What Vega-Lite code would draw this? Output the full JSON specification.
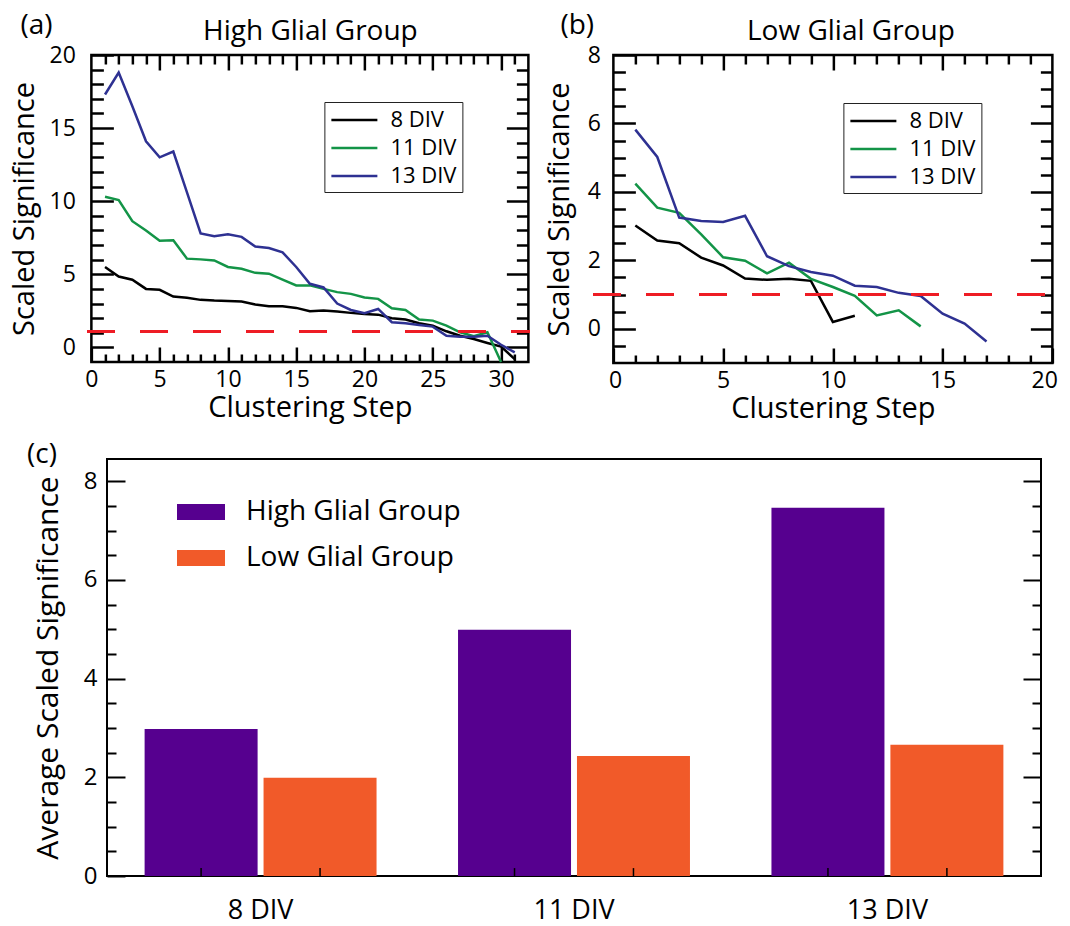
{
  "$schema": "https://vega.github.io/schema/vega-lite/v6.json",
  "background": "white",
  "padding": {"left": 8, "top": 10, "right": 4, "bottom": 4},
  "config": {
    "font": "Open Sans",
    "view": {"stroke": "black", "strokeWidth": 2.5},
    "axis": {
      "domain": false, "grid": false, "ticks": true,
      "tickColor": "black", "tickWidth": 2.5,
      "labelColor": "black", "labelFontSize": 23, "labelFlush": false, "labelOverlap": false,
      "titleColor": "black", "titleFontSize": 29, "titleFontWeight": "normal"
    },
    "title": {"fontSize": 28, "fontWeight": "normal", "color": "black"},
    "legend": {"labelColor": "black", "labelLimit": 0}
  },
  "datasets": {
    "high": [
      {"step": 1, "sig": 5.5, "div": "8 DIV"}, {"step": 2, "sig": 4.85, "div": "8 DIV"}, {"step": 3, "sig": 4.63, "div": "8 DIV"},
      {"step": 4, "sig": 4.0, "div": "8 DIV"}, {"step": 5, "sig": 3.94, "div": "8 DIV"}, {"step": 6, "sig": 3.48, "div": "8 DIV"},
      {"step": 7, "sig": 3.39, "div": "8 DIV"}, {"step": 8, "sig": 3.25, "div": "8 DIV"}, {"step": 9, "sig": 3.2, "div": "8 DIV"},
      {"step": 10, "sig": 3.18, "div": "8 DIV"}, {"step": 11, "sig": 3.14, "div": "8 DIV"}, {"step": 12, "sig": 2.93, "div": "8 DIV"},
      {"step": 13, "sig": 2.82, "div": "8 DIV"}, {"step": 14, "sig": 2.82, "div": "8 DIV"}, {"step": 15, "sig": 2.7, "div": "8 DIV"},
      {"step": 16, "sig": 2.47, "div": "8 DIV"}, {"step": 17, "sig": 2.52, "div": "8 DIV"}, {"step": 18, "sig": 2.45, "div": "8 DIV"},
      {"step": 19, "sig": 2.36, "div": "8 DIV"}, {"step": 20, "sig": 2.29, "div": "8 DIV"}, {"step": 21, "sig": 2.24, "div": "8 DIV"},
      {"step": 22, "sig": 1.99, "div": "8 DIV"}, {"step": 23, "sig": 1.9, "div": "8 DIV"}, {"step": 24, "sig": 1.65, "div": "8 DIV"},
      {"step": 25, "sig": 1.49, "div": "8 DIV"}, {"step": 26, "sig": 1.1, "div": "8 DIV"}, {"step": 27, "sig": 0.8, "div": "8 DIV"},
      {"step": 28, "sig": 0.57, "div": "8 DIV"}, {"step": 29, "sig": 0.3, "div": "8 DIV"}, {"step": 30, "sig": 0.05, "div": "8 DIV"},
      {"step": 31, "sig": -0.8, "div": "8 DIV"},
      {"step": 1, "sig": 10.3, "div": "11 DIV"}, {"step": 2, "sig": 10.08, "div": "11 DIV"}, {"step": 3, "sig": 8.63, "div": "11 DIV"},
      {"step": 4, "sig": 8.0, "div": "11 DIV"}, {"step": 5, "sig": 7.3, "div": "11 DIV"}, {"step": 6, "sig": 7.33, "div": "11 DIV"},
      {"step": 7, "sig": 6.07, "div": "11 DIV"}, {"step": 8, "sig": 6.02, "div": "11 DIV"}, {"step": 9, "sig": 5.95, "div": "11 DIV"},
      {"step": 10, "sig": 5.5, "div": "11 DIV"}, {"step": 11, "sig": 5.38, "div": "11 DIV"}, {"step": 12, "sig": 5.1, "div": "11 DIV"},
      {"step": 13, "sig": 5.04, "div": "11 DIV"}, {"step": 14, "sig": 4.63, "div": "11 DIV"}, {"step": 15, "sig": 4.24, "div": "11 DIV"},
      {"step": 16, "sig": 4.24, "div": "11 DIV"}, {"step": 17, "sig": 4.0, "div": "11 DIV"}, {"step": 18, "sig": 3.78, "div": "11 DIV"},
      {"step": 19, "sig": 3.66, "div": "11 DIV"}, {"step": 20, "sig": 3.41, "div": "11 DIV"}, {"step": 21, "sig": 3.32, "div": "11 DIV"},
      {"step": 22, "sig": 2.68, "div": "11 DIV"}, {"step": 23, "sig": 2.56, "div": "11 DIV"}, {"step": 24, "sig": 1.9, "div": "11 DIV"},
      {"step": 25, "sig": 1.83, "div": "11 DIV"}, {"step": 26, "sig": 1.49, "div": "11 DIV"}, {"step": 27, "sig": 1.03, "div": "11 DIV"},
      {"step": 28, "sig": 0.76, "div": "11 DIV"}, {"step": 29, "sig": 1.03, "div": "11 DIV"}, {"step": 30, "sig": -1.0, "div": "11 DIV"},
      {"step": 1, "sig": 17.3, "div": "13 DIV"}, {"step": 2, "sig": 18.8, "div": "13 DIV"}, {"step": 3, "sig": 16.5, "div": "13 DIV"},
      {"step": 4, "sig": 14.1, "div": "13 DIV"}, {"step": 5, "sig": 13.0, "div": "13 DIV"}, {"step": 6, "sig": 13.4, "div": "13 DIV"},
      {"step": 7, "sig": 10.6, "div": "13 DIV"}, {"step": 8, "sig": 7.8, "div": "13 DIV"}, {"step": 9, "sig": 7.6, "div": "13 DIV"},
      {"step": 10, "sig": 7.74, "div": "13 DIV"}, {"step": 11, "sig": 7.56, "div": "13 DIV"}, {"step": 12, "sig": 6.9, "div": "13 DIV"},
      {"step": 13, "sig": 6.8, "div": "13 DIV"}, {"step": 14, "sig": 6.5, "div": "13 DIV"}, {"step": 15, "sig": 5.5, "div": "13 DIV"},
      {"step": 16, "sig": 4.35, "div": "13 DIV"}, {"step": 17, "sig": 4.1, "div": "13 DIV"}, {"step": 18, "sig": 3.0, "div": "13 DIV"},
      {"step": 19, "sig": 2.56, "div": "13 DIV"}, {"step": 20, "sig": 2.34, "div": "13 DIV"}, {"step": 21, "sig": 2.63, "div": "13 DIV"},
      {"step": 22, "sig": 1.72, "div": "13 DIV"}, {"step": 23, "sig": 1.65, "div": "13 DIV"}, {"step": 24, "sig": 1.53, "div": "13 DIV"},
      {"step": 25, "sig": 1.42, "div": "13 DIV"}, {"step": 26, "sig": 0.8, "div": "13 DIV"}, {"step": 27, "sig": 0.73, "div": "13 DIV"},
      {"step": 28, "sig": 0.73, "div": "13 DIV"}, {"step": 29, "sig": 0.8, "div": "13 DIV"}, {"step": 30, "sig": 0.18, "div": "13 DIV"},
      {"step": 31, "sig": -0.34, "div": "13 DIV"}
    ],
    "low": [
      {"step": 1, "sig": 3.02, "div": "8 DIV"}, {"step": 2, "sig": 2.58, "div": "8 DIV"}, {"step": 3, "sig": 2.5, "div": "8 DIV"},
      {"step": 4, "sig": 2.08, "div": "8 DIV"}, {"step": 5, "sig": 1.85, "div": "8 DIV"}, {"step": 6, "sig": 1.47, "div": "8 DIV"},
      {"step": 7, "sig": 1.43, "div": "8 DIV"}, {"step": 8, "sig": 1.46, "div": "8 DIV"}, {"step": 9, "sig": 1.4, "div": "8 DIV"},
      {"step": 10, "sig": 0.2, "div": "8 DIV"}, {"step": 11, "sig": 0.38, "div": "8 DIV"},
      {"step": 1, "sig": 4.24, "div": "11 DIV"}, {"step": 2, "sig": 3.54, "div": "11 DIV"}, {"step": 3, "sig": 3.39, "div": "11 DIV"},
      {"step": 4, "sig": 2.76, "div": "11 DIV"}, {"step": 5, "sig": 2.09, "div": "11 DIV"}, {"step": 6, "sig": 1.99, "div": "11 DIV"},
      {"step": 7, "sig": 1.62, "div": "11 DIV"}, {"step": 8, "sig": 1.93, "div": "11 DIV"}, {"step": 9, "sig": 1.46, "div": "11 DIV"},
      {"step": 10, "sig": 1.22, "div": "11 DIV"}, {"step": 11, "sig": 0.96, "div": "11 DIV"}, {"step": 12, "sig": 0.39, "div": "11 DIV"},
      {"step": 13, "sig": 0.54, "div": "11 DIV"}, {"step": 14, "sig": 0.07, "div": "11 DIV"},
      {"step": 1, "sig": 5.82, "div": "13 DIV"}, {"step": 2, "sig": 5.02, "div": "13 DIV"}, {"step": 3, "sig": 3.25, "div": "13 DIV"},
      {"step": 4, "sig": 3.15, "div": "13 DIV"}, {"step": 5, "sig": 3.12, "div": "13 DIV"}, {"step": 6, "sig": 3.3, "div": "13 DIV"},
      {"step": 7, "sig": 2.12, "div": "13 DIV"}, {"step": 8, "sig": 1.83, "div": "13 DIV"}, {"step": 9, "sig": 1.66, "div": "13 DIV"},
      {"step": 10, "sig": 1.55, "div": "13 DIV"}, {"step": 11, "sig": 1.26, "div": "13 DIV"}, {"step": 12, "sig": 1.22, "div": "13 DIV"},
      {"step": 13, "sig": 1.05, "div": "13 DIV"}, {"step": 14, "sig": 0.96, "div": "13 DIV"}, {"step": 15, "sig": 0.44, "div": "13 DIV"},
      {"step": 16, "sig": 0.15, "div": "13 DIV"}, {"step": 17, "sig": -0.37, "div": "13 DIV"}
    ],
    "avg": [
      {"div": "8 DIV", "group": "High Glial Group", "avg": 2.98},
      {"div": "8 DIV", "group": "Low Glial Group", "avg": 1.99},
      {"div": "11 DIV", "group": "High Glial Group", "avg": 4.99},
      {"div": "11 DIV", "group": "Low Glial Group", "avg": 2.43},
      {"div": "13 DIV", "group": "High Glial Group", "avg": 7.46},
      {"div": "13 DIV", "group": "Low Glial Group", "avg": 2.66}
    ]
  },
  "vconcat": [
    {
      "hconcat": [
        {
          "width": 437, "height": 307,
          "title": {"text": "(a)", "anchor": "start", "frame": "group", "dx": -71, "dy": 26},
          "data": {"name": "high"},
          "view": {"stroke": "black", "strokeWidth": 2.5},
          "layer": [
            {
              "mark": {"type": "line", "strokeWidth": 2.5},
              "encoding": {
                "x": {"field": "step", "type": "quantitative",
                      "scale": {"domain": [0, 32], "nice": false, "zero": false},
                      "axis": {"orient": "bottom", "values": [0, 5, 10, 15, 20, 25, 30], "tickSize": -15, "labelPadding": 21, "title": "Clustering Step", "titlePadding": 2}},
                "y": {"field": "sig", "type": "quantitative",
                      "scale": {"domain": [-1, 20], "nice": false, "zero": false},
                      "axis": {"orient": "left", "values": [0, 5, 10, 15, 20], "tickSize": -22, "labelPadding": 38, "title": "Scaled Significance", "titlePadding": 10}},
                "color": {"field": "div", "type": "nominal",
                          "scale": {"domain": ["8 DIV", "11 DIV", "13 DIV"], "range": ["#000000", "#139447", "#2e3192"]},
                          "legend": {"orient": "none", "legendX": 233, "legendY": 47, "title": null,
                                     "symbolType": "M-2,0H2", "symbolSize": 529, "symbolStrokeWidth": 2.5, "symbolOffset": 12,
                                     "labelFontSize": 22, "labelOffset": 23, "rowPadding": 4, "padding": 5,
                                     "strokeColor": "#222222", "fillColor": "white"}}
              }
            },
            {
              "mark": {"type": "point", "opacity": 0},
              "encoding": {
                "x": {"field": "step", "type": "quantitative",
                      "axis": {"orient": "bottom", "values": [1, 2, 3, 4, 6, 7, 8, 9, 11, 12, 13, 14, 16, 17, 18, 19, 21, 22, 23, 24, 26, 27, 28, 29, 31], "tickSize": -8, "labels": false, "title": null}},
                "y": {"field": "sig", "type": "quantitative",
                      "axis": {"orient": "left", "values": [1, 2, 3, 4, 6, 7, 8, 9, 11, 12, 13, 14, 16, 17, 18, 19], "tickSize": -12, "labels": false, "title": null}}
              }
            },
            {
              "mark": {"type": "point", "opacity": 0},
              "encoding": {
                "x": {"field": "step", "type": "quantitative",
                      "axis": {"orient": "top", "values": [5, 10, 15, 20, 25, 30], "tickSize": -15, "labels": false, "title": "High Glial Group", "titleFontSize": 28, "titlePadding": 8}},
                "y": {"field": "sig", "type": "quantitative",
                      "axis": {"orient": "right", "values": [0, 5, 10, 15], "tickSize": -22, "labels": false, "title": null}}
              }
            },
            {
              "mark": {"type": "point", "opacity": 0},
              "encoding": {
                "x": {"field": "step", "type": "quantitative",
                      "axis": {"orient": "top", "values": [1, 2, 3, 4, 6, 7, 8, 9, 11, 12, 13, 14, 16, 17, 18, 19, 21, 22, 23, 24, 26, 27, 28, 29, 31], "tickSize": -9, "labels": false, "title": null}},
                "y": {"field": "sig", "type": "quantitative",
                      "axis": {"orient": "right", "values": [1, 2, 3, 4, 6, 7, 8, 9, 11, 12, 13, 14, 16, 17, 18, 19], "tickSize": -12, "labels": false, "title": null}}
              }
            },
            {
              "mark": {"type": "rule", "stroke": "#ee1c25", "strokeWidth": 2.5, "strokeDash": [27, 26]},
              "encoding": {
                "x": {"datum": -0.3, "axis": null},
                "x2": {"datum": 32.1},
                "y": {"datum": 1.1, "axis": null}
              }
            }
          ],
          "resolve": {"axis": {"x": "independent", "y": "independent"}}
        },
        {
          "width": 439, "height": 308,
          "title": {"text": "(b)", "anchor": "start", "frame": "group", "dx": -53, "dy": 26},
          "data": {"name": "low"},
          "view": {"stroke": "black", "strokeWidth": 2.5},
          "layer": [
            {
              "mark": {"type": "line", "strokeWidth": 2.5},
              "encoding": {
                "x": {"field": "step", "type": "quantitative",
                      "scale": {"domain": [0, 20], "nice": false, "zero": false},
                      "axis": {"orient": "bottom", "values": [0, 5, 10, 15, 20], "tickSize": -15, "labelPadding": 21, "labelFlush": true, "labelFlushOffset": 5, "title": "Clustering Step", "titlePadding": 2}},
                "y": {"field": "sig", "type": "quantitative",
                      "scale": {"domain": [-1, 8], "nice": false, "zero": false},
                      "axis": {"orient": "left", "values": [0, 2, 4, 6, 8], "tickSize": -22, "labelPadding": 35, "title": "Scaled Significance", "titlePadding": 13}},
                "color": {"field": "div", "type": "nominal",
                          "scale": {"domain": ["8 DIV", "11 DIV", "13 DIV"], "range": ["#000000", "#139447", "#2e3192"]},
                          "legend": {"orient": "none", "legendX": 230, "legendY": 48, "title": null,
                                     "symbolType": "M-2,0H2", "symbolSize": 529, "symbolStrokeWidth": 2.5, "symbolOffset": 12,
                                     "labelFontSize": 22, "labelOffset": 23, "rowPadding": 4, "padding": 5,
                                     "strokeColor": "#222222", "fillColor": "white"}}
              }
            },
            {
              "mark": {"type": "point", "opacity": 0},
              "encoding": {
                "x": {"field": "step", "type": "quantitative",
                      "axis": {"orient": "bottom", "values": [1, 2, 3, 4, 6, 7, 8, 9, 11, 12, 13, 14, 16, 17, 18, 19], "tickSize": -8, "labels": false, "title": null}},
                "y": {"field": "sig", "type": "quantitative",
                      "axis": {"orient": "left", "values": [-0.5, 0.5, 1, 1.5, 2.5, 3, 3.5, 4.5, 5, 5.5, 6.5, 7, 7.5], "tickSize": -12, "labels": false, "title": null}}
              }
            },
            {
              "mark": {"type": "point", "opacity": 0},
              "encoding": {
                "x": {"field": "step", "type": "quantitative",
                      "axis": {"orient": "top", "values": [5, 10, 15], "tickSize": -15, "labels": false, "title": "Low Glial Group", "titleFontSize": 28, "titlePadding": 8, "titleX": 237}},
                "y": {"field": "sig", "type": "quantitative",
                      "axis": {"orient": "right", "values": [0, 2, 4, 6], "tickSize": -22, "labels": false, "title": null}}
              }
            },
            {
              "mark": {"type": "point", "opacity": 0},
              "encoding": {
                "x": {"field": "step", "type": "quantitative",
                      "axis": {"orient": "top", "values": [1, 2, 3, 4, 6, 7, 8, 9, 11, 12, 13, 14, 16, 17, 18, 19], "tickSize": -9, "labels": false, "title": null}},
                "y": {"field": "sig", "type": "quantitative",
                      "axis": {"orient": "right", "values": [-0.5, 0.5, 1, 1.5, 2.5, 3, 3.5, 4.5, 5, 5.5, 6.5, 7, 7.5], "tickSize": -12, "labels": false, "title": null}}
              }
            },
            {
              "mark": {"type": "rule", "stroke": "#ee1c25", "strokeWidth": 2.5, "strokeDash": [27, 26]},
              "encoding": {
                "x": {"datum": -0.9, "axis": null},
                "x2": {"datum": 20},
                "y": {"datum": 1.0, "axis": null}
              }
            }
          ],
          "resolve": {"axis": {"x": "independent", "y": "independent"}}
        }
      ],
      "spacing": 11,
      "resolve": {"scale": {"color": "independent"}}
    },
    {
      "width": 934, "height": 417,
      "title": {"text": "(c)", "anchor": "start", "frame": "group", "dx": -80, "dy": 14},
      "data": {"name": "avg"},
      "view": {"stroke": "black", "strokeWidth": 2},
      "layer": [
        {
          "mark": {"type": "bar"},
          "encoding": {
            "x": {"field": "div", "type": "nominal", "sort": ["8 DIV", "11 DIV", "13 DIV"],
                  "scale": {"paddingInner": 0.26, "paddingOuter": 0.12},
                  "axis": {"orient": "bottom", "ticks": false, "tickSize": 0, "labelAngle": 0, "labelFontSize": 27, "labelPadding": 21, "title": null}},
            "xOffset": {"field": "group", "type": "nominal", "sort": ["High Glial Group", "Low Glial Group"],
                        "scale": {"paddingInner": 0.05, "paddingOuter": 0}},
            "y": {"field": "avg", "type": "quantitative",
                  "scale": {"domain": [0, 8.45], "nice": false},
                  "axis": {"orient": "left", "values": [0, 2, 4, 6, 8], "tickSize": -18, "tickWidth": 2, "labelFontSize": 24, "labelPadding": 28, "title": "Average Scaled Significance", "titleFontSize": 30, "titlePadding": 20}},
            "color": {"field": "group", "type": "nominal",
                      "scale": {"domain": ["High Glial Group", "Low Glial Group"], "range": ["#56008f", "#f15a29"]},
                      "legend": {"orient": "none", "legendX": 59, "legendY": 39, "title": null,
                                 "symbolType": "M-2,-0.667H2V0.667H-2Z", "symbolSize": 576, "symbolStrokeWidth": 0, "symbolOffset": 21,
                                 "labelFontSize": 28, "labelOffset": 31, "rowPadding": 18, "padding": 0}}
          }
        },
        {
          "mark": {"type": "point", "opacity": 0},
          "encoding": {
            "x": {"field": "div", "type": "nominal", "sort": ["8 DIV", "11 DIV", "13 DIV"], "axis": null},
            "y": {"field": "avg", "type": "quantitative",
                  "axis": {"orient": "left", "values": [0.5, 1, 1.5, 2.5, 3, 3.5, 4.5, 5, 5.5, 6.5, 7, 7.5], "tickSize": -9, "tickWidth": 2, "labels": false, "title": null}}
          }
        },
        {
          "mark": {"type": "point", "opacity": 0},
          "encoding": {
            "x": {"field": "div", "type": "nominal", "sort": ["8 DIV", "11 DIV", "13 DIV"], "axis": null},
            "y": {"field": "avg", "type": "quantitative",
                  "axis": {"orient": "right", "values": [2, 4, 6, 8], "tickSize": -18, "tickWidth": 2, "labels": false, "title": null}}
          }
        },
        {
          "mark": {"type": "point", "opacity": 0},
          "encoding": {
            "x": {"field": "div", "type": "nominal", "sort": ["8 DIV", "11 DIV", "13 DIV"], "axis": null},
            "y": {"field": "avg", "type": "quantitative",
                  "axis": {"orient": "right", "values": [0.5, 1, 1.5, 2.5, 3, 3.5, 4.5, 5, 5.5, 6.5, 7, 7.5], "tickSize": -9, "tickWidth": 2, "labels": false, "title": null}}
          }
        },
        {
          "mark": {"type": "rule", "stroke": "black", "strokeWidth": 1.5},
          "encoding": {
            "x": {"field": "div", "type": "nominal", "sort": ["8 DIV", "11 DIV", "13 DIV"], "axis": null},
            "xOffset": {"field": "group", "type": "nominal", "sort": ["High Glial Group", "Low Glial Group"]},
            "y": {"datum": 0, "axis": null},
            "y2": {"datum": 0.16}
          }
        }
      ],
      "resolve": {"axis": {"x": "independent", "y": "independent"}}
    }
  ],
  "spacing": 15,
  "center": true,
  "resolve": {"scale": {"color": "independent"}}
}
